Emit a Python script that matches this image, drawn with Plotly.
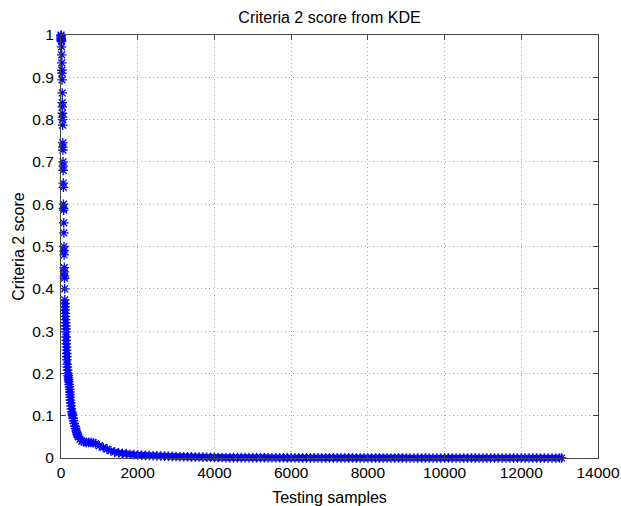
import plotly.graph_objects as go

# Sorted Criteria 2 scores
head_x = [0, 2, 4, 6, 8, 10, 12, 15, 18, 21, 24, 26, 28, 31, 33, 35, 37, 39, 41, 43,
          46, 48, 50, 53, 55, 57, 60, 62, 65, 67, 69, 72, 75, 78, 80, 82, 86, 88, 90, 92, 96]
head_y = [1.0, 0.998, 0.995, 0.992, 0.99, 0.987, 0.985, 0.972, 0.953, 0.934, 0.917, 0.91,
          0.894, 0.863, 0.84, 0.83, 0.815, 0.806, 0.80, 0.787, 0.745, 0.735, 0.728, 0.70,
          0.69, 0.68, 0.65, 0.64, 0.60, 0.59, 0.586, 0.556, 0.532, 0.50, 0.49, 0.48, 0.45,
          0.44, 0.43, 0.425, 0.40]

knee_x = [100, 103, 106, 109, 112, 115, 118, 121, 124, 127, 130, 134, 137, 140, 143, 146,
          149, 152, 155, 160, 165, 172, 180, 186, 192, 198, 206, 213, 220, 226, 231, 235,
          240, 246, 253, 262, 272, 283, 294, 305, 315, 330, 345, 365, 380, 400, 410, 425,
          435, 450, 495, 540, 600, 660, 720, 780, 840, 900, 1000, 1100, 1200, 1300, 1400]
knee_y = [0.374, 0.365, 0.357, 0.35, 0.342, 0.335, 0.327, 0.32, 0.312, 0.305, 0.298, 0.286,
          0.278, 0.27, 0.262, 0.255, 0.247, 0.24, 0.232, 0.222, 0.215, 0.208, 0.2, 0.195,
          0.19, 0.185, 0.18, 0.174, 0.168, 0.162, 0.156, 0.15, 0.144, 0.137, 0.13, 0.123,
          0.116, 0.109, 0.104, 0.1, 0.094, 0.088, 0.082, 0.075, 0.07, 0.064, 0.06, 0.056,
          0.054, 0.05, 0.044, 0.04, 0.038, 0.037, 0.037, 0.037, 0.036, 0.034, 0.029, 0.025,
          0.021, 0.017, 0.014]

tail_x = [1500, 1600, 1700, 1800, 1900, 2000, 2100, 2200, 2300, 2400, 2500, 2600, 2700,
          2800, 2900, 3000, 3100, 3200, 3300, 3400, 3500, 3600, 3700, 3800, 3900, 4000,
          4100, 4200, 4300, 4400, 4500, 4600, 4700, 4800, 4900, 5000, 5100, 5200, 5300,
          5400, 5500, 5600, 5700, 5800, 5900, 6000, 6100, 6200, 6300, 6400, 6500, 6600,
          6700, 6800, 6900, 7000, 7100, 7200, 7300, 7400, 7500, 7600, 7700, 7800, 7900,
          8000, 8100, 8200, 8300, 8400, 8500, 8600, 8700, 8800, 8900, 9000, 9100, 9200,
          9300, 9400, 9500, 9600, 9700, 9800, 9900, 10000, 10100, 10200, 10300, 10400,
          10500, 10600, 10700, 10800, 10900, 11000, 11100, 11200, 11300, 11400, 11500,
          11600, 11700, 11800, 11900, 12000, 12100, 12200, 12300, 12400, 12500, 12600,
          12700, 12800, 12900, 13000, 13050]
tail_y = [0.012, 0.011, 0.010, 0.009, 0.008, 0.007, 0.0066, 0.0062, 0.0058, 0.0054, 0.005,
          0.0047, 0.0044, 0.0041, 0.0038, 0.0035, 0.0033, 0.0031, 0.0029, 0.0027, 0.0025,
          0.0023, 0.0021, 0.0019, 0.0017, 0.0015, 0.0013, 0.0011, 0.001, 0.001, 0.001,
          0.0009, 0.0009, 0.0009, 0.0008, 0.0008, 0.0008, 0.0007, 0.0007, 0.0007, 0.0006,
          0.0006, 0.0006, 0.0005, 0.0005, 0.0005, 0.0005, 0.0004, 0.0004, 0.0004, 0.0004,
          0.0003, 0.0003, 0.0003, 0.0003, 0.0003, 0.0002, 0.0002, 0.0002, 0.0002, 0.0002,
          0.0002, 0.0001, 0.0001, 0.0001, 0.0001, 0.0001, 0.0001, 0.0001, 0.0001, 0.0001,
          0.0001, 0.0001, 0.0001, 0.0001, 0.0001, 0.0, 0.0, 0.0, 0.0, 0.0, 0.0, 0.0, 0.0,
          0.0, 0.0, 0.0, 0.0, 0.0, 0.0, 0.0, 0.0, 0.0, 0.0, 0.0, 0.0, 0.0, 0.0, 0.0, 0.0,
          0.0, 0.0, 0.0, 0.0, 0.0, 0.0, 0.0, 0.0, 0.0, 0.0, 0.0, 0.0, 0.0, 0.0, 0.0, 0.0,
          0.0, 0.0]

x_ticks = [0, 2000, 4000, 6000, 8000, 10000, 12000, 14000]
y_ticks = [0, 0.1, 0.2, 0.3, 0.4, 0.5, 0.6, 0.7, 0.8, 0.9, 1]
y_tick_labels = ["0", "0.1", "0.2", "0.3", "0.4", "0.5", "0.6", "0.7", "0.8", "0.9", "1"]

xs = head_x + knee_x + tail_x
ys = head_y + knee_y + tail_y
dense_x = knee_x + tail_x
dense_y = knee_y + tail_y

FONT = "Liberation Sans, Arial, Helvetica, sans-serif"
BLUE = "#0000ff"

fig = go.Figure()
# the overlapping markers in the dense part form a solid band
fig.add_trace(go.Scatter(
    x=dense_x, y=dense_y, mode="lines",
    line=dict(color=BLUE, width=5),
    showlegend=False, hoverinfo="skip",
))
fig.add_trace(go.Scatter(
    x=xs, y=ys, mode="markers", cliponaxis=False,
    marker=dict(symbol="asterisk-open", size=8, color=BLUE,
                line=dict(color=BLUE, width=1.3)),
    showlegend=False, hoverinfo="skip",
))

axis_common = dict(
    showline=True, linecolor="#444444", linewidth=1, mirror="ticks",
    ticks="inside", ticklen=5, tickcolor="#444444",
    showgrid=True, gridcolor="#aaaaaa", griddash="1px,3px", gridwidth=1,
    zeroline=False, tickfont=dict(family=FONT, size=15.5, color="#000000"),
    layer="above traces", automargin=False,
)

fig.update_layout(
    width=621, height=506,
    margin=dict(l=61, r=23, t=35, b=48),
    paper_bgcolor="white", plot_bgcolor="white",
    title=dict(text="Criteria 2 score from KDE", x=0.5, xref="paper",
               y=1 - 17 / 506, yref="container", yanchor="middle", xanchor="center",
               automargin=False,
               font=dict(family=FONT, size=16, color="#000000")),
    xaxis=dict(range=[0, 14000], tickvals=x_ticks, ticktext=[str(v) for v in x_ticks],
               title=dict(text="Testing samples", standoff=12,
                          font=dict(family=FONT, size=16, color="#000000")),
               **axis_common),
    yaxis=dict(range=[0, 1], tickvals=y_ticks, ticktext=y_tick_labels,
               ticklabelstandoff=3,
               title=dict(text="Criteria 2 score", standoff=3,
                          font=dict(family=FONT, size=16, color="#000000")),
               **axis_common),
)

fig.write_html(
    "out.html",
    config={"displayModeBar": False, "staticPlot": True},
    post_script="document.body.style.margin='0';document.body.style.overflow='hidden';",
)
